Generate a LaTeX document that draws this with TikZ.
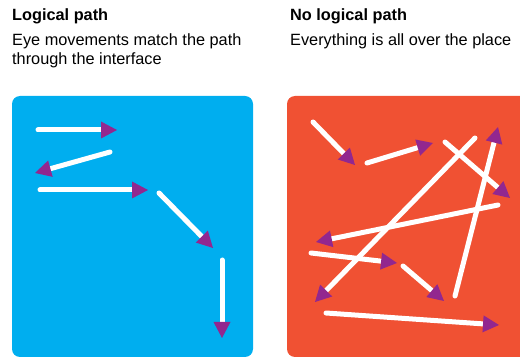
\documentclass[tikz,border=0pt]{standalone}
\usepackage{fontspec}
\setmainfont{Liberation Sans}
\definecolor{pathblue}{RGB}{0,174,239}
\definecolor{pathred}{RGB}{240,81,51}
\definecolor{pathpurple}{RGB}{146,39,143}
\usetikzlibrary{arrows.meta}
\tikzset{
  panel/.style={fill=#1,draw=none,rounded corners=8pt},
  eyearr/.style={draw=white,line width=5pt,line cap=round,
                 -{Triangle[length=16pt,width=17pt,line width=0pt,color=pathpurple]}},
  title/.style={anchor=base west,inner sep=0pt,font=\fontsize{16.3}{19}\selectfont\bfseries},
  subtitle/.style={anchor=base west,inner sep=0pt,font=\fontsize{16.3}{19}\selectfont},
}
\begin{document}
\begin{tikzpicture}[x=1pt,y=-1pt]
  \useasboundingbox (0,0) rectangle (520,358);
  \clip (0,0) rectangle (520,358);

  %% Headings
  \node[title] (logT) at (12,21) {Logical path};
  \node[subtitle] (logS) at (12,46) {Eye movements match the path};
  \node[subtitle] (logS2) at (12,65) {through the interface};
  \node[title] (noT) at (290,21) {No logical path};
  \node[subtitle] (noS) at (290,46) {Everything is all over the place};

  %% Panels
  \fill[panel=pathblue] (12,96) rectangle (253,357) coordinate (logP);
  \fill[panel=pathred] (287,96) rectangle (540,357) coordinate (noP);

  %% Logical path: eye movements
  \foreach \name/\xa/\ya/\xb/\yb in {
    a/ 38/130/117/130,
    b/110/152/ 35/173,
    c/ 40/190/148/190,
    d/159/193/213/248,
    e/222/260/222/338}{
    \coordinate (\name s) at (\xa,\ya);
    \coordinate (\name e) at (\xb,\yb);
    \draw[eyearr] (\name s) -- (\name e);
  }

  %% No logical path: eye movements
  \foreach \name/\xa/\ya/\xb/\yb in {
    f/313/122/355/165,
    g/367/163/433/143,
    h/445/142/510/198,
    i/475/138/315/302,
    j/455/296/498/127,
    k/498/205/316/242,
    l/311/253/397/263,
    m/403/266/444/301,
    n/326/313/499/325}{
    \coordinate (\name s) at (\xa,\ya);
    \coordinate (\name e) at (\xb,\yb);
    \draw[eyearr] (\name s) -- (\name e);
  }

\end{tikzpicture}
\end{document}
